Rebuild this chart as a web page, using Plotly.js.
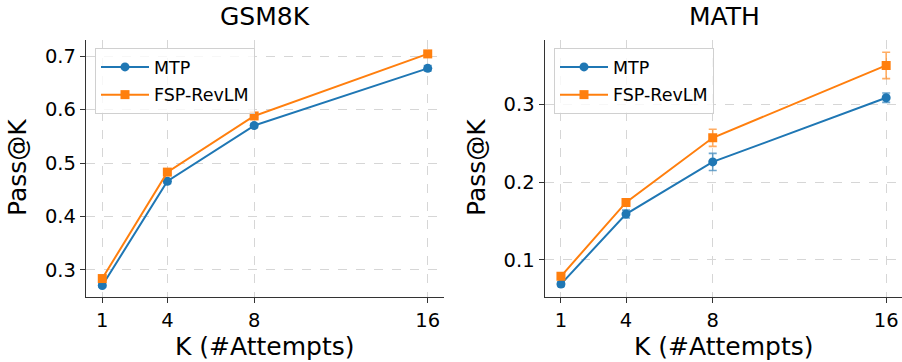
<!DOCTYPE html>
<html><head><meta charset="utf-8">
<script src="https://cdn.plot.ly/plotly-3.0.1.min.js"></script>
<style>html,body{margin:0;padding:0;background:#fff}#plot{width:902px;height:362px}</style>
</head><body><div id="plot"></div>
<script>
const K = [1, 4, 8, 16];
const tickLabels = ['1', '4', '8', '16'];
const gsmMTP = [0.271, 0.466, 0.570, 0.677];
const gsmMTPErr = [0.003, 0.004, 0.004, 0.005];
const gsmFSP = [0.284, 0.483, 0.588, 0.704];
const gsmFSPErr = [0.003, 0.003, 0.003, 0.003];
const mathMTP = [0.069, 0.159, 0.226, 0.3085];
const mathMTPErr = [0.003, 0.005, 0.011, 0.006];
const mathFSP = [0.079, 0.174, 0.257, 0.350];
const mathFSPErr = [0.003, 0.004, 0.011, 0.017];

const blue = '#1f77b4', orange = '#ff7f0e';
function errColor(c){ return c === blue ? 'rgba(31,119,180,0.65)' : 'rgba(255,127,14,0.65)'; }
function tr(y, err, name, color, sym, xa, ya, leg, size){
  return {x: K, y: y, name: name, type: 'scatter', mode: 'lines+markers',
    xaxis: xa, yaxis: ya, legend: leg, legendgroup: name + leg,
    line: {color: color, width: 2},
    marker: {color: color, symbol: sym, size: size},
    error_y: {type: 'data', array: err, visible: true, color: errColor(color), thickness: 1.6, width: 4}};
}
const data = [
  tr(gsmMTP, gsmMTPErr, 'MTP', blue, 'circle', 'x', 'y', 'legend', 9),
  tr(gsmFSP, gsmFSPErr, 'FSP-RevLM', orange, 'square', 'x', 'y', 'legend', 9),
  tr(mathMTP, mathMTPErr, 'MTP', blue, 'circle', 'x2', 'y2', 'legend2', 9),
  tr(mathFSP, mathFSPErr, 'FSP-RevLM', orange, 'square', 'x2', 'y2', 'legend2', 9)
];

const fam = 'DejaVu Sans, sans-serif';
function xax(dom, anchor){
  return {domain: dom, anchor: anchor, range: [0.25, 16.75], tickvals: K, ticktext: tickLabels,
    showline: true, linecolor: '#333', linewidth: 1.2, mirror: false, ticks: 'outside', ticklen: 5, tickcolor: '#333',
    showgrid: true, gridcolor: '#d6d6d6', griddash: 'dash', gridwidth: 1, zeroline: false,
    tickfont: {family: fam, size: 19.5, color: '#000'}};
}
function yax(dom, anchor, range, tv){
  return {domain: dom, anchor: anchor, range: range, tickvals: tv, ticktext: tv.map(v => v.toFixed(1)),
    showline: true, linecolor: '#333', linewidth: 1.2, mirror: false, ticks: 'outside', ticklen: 5, tickcolor: '#333',
    showgrid: true, gridcolor: '#d6d6d6', griddash: 'dash', gridwidth: 1, zeroline: false,
    tickfont: {family: fam, size: 19.5, color: '#000'}};
}
const yDom = [1 - 297/362, 1 - 40/362];
const legendBase = {bgcolor: 'rgba(255,255,255,0.8)', bordercolor: '#d0d0d0', borderwidth: 1,
  font: {family: fam, size: 17.5, color: '#000'}, tracegroupgap: 2, itemwidth: 48, xanchor: 'left', yanchor: 'top'};
function ann(text, x, y, size, angle){
  return {text: text, x: x/902, y: 1 - y/362, xref: 'paper', yref: 'paper', showarrow: false,
    font: {family: fam, size: size, color: '#000'}, xanchor: 'center', yanchor: 'middle', textangle: angle || 0};
}
const layout = {
  width: 902, height: 362, margin: {l: 0, r: 0, t: 0, b: 0},
  paper_bgcolor: '#fff', plot_bgcolor: '#fff', showlegend: true,
  xaxis: xax([86/902, 444/902], 'y'),
  yaxis: yax(yDom, 'x', [0.2495, 0.730], [0.3, 0.4, 0.5, 0.6, 0.7]),
  xaxis2: Object.assign(xax([544.7/902, 1], 'y2'), {range: [0.25, 16.73]}),
  yaxis2: yax(yDom, 'x2', [0.0524, 0.3827], [0.1, 0.2, 0.3]),
  legend: Object.assign({}, legendBase, {x: 95/902, y: 1 - 48/362, xref: 'paper', yref: 'paper'}),
  legend2: Object.assign({}, legendBase, {x: 554/902, y: 1 - 48/362, xref: 'paper', yref: 'paper'}),
  annotations: [
    ann('GSM8K', 265, 16, 25), ann('MATH', 724, 16, 25),
    ann('K (#Attempts)', 265, 346, 25), ann('K (#Attempts)', 724, 346, 25),
    ann('Pass@K', 18, 168, 25, -90), ann('Pass@K', 477, 168, 25, -90)
  ]
};
Plotly.newPlot('plot', data, layout, {displayModeBar: false, staticPlot: true});
</script></body></html>
